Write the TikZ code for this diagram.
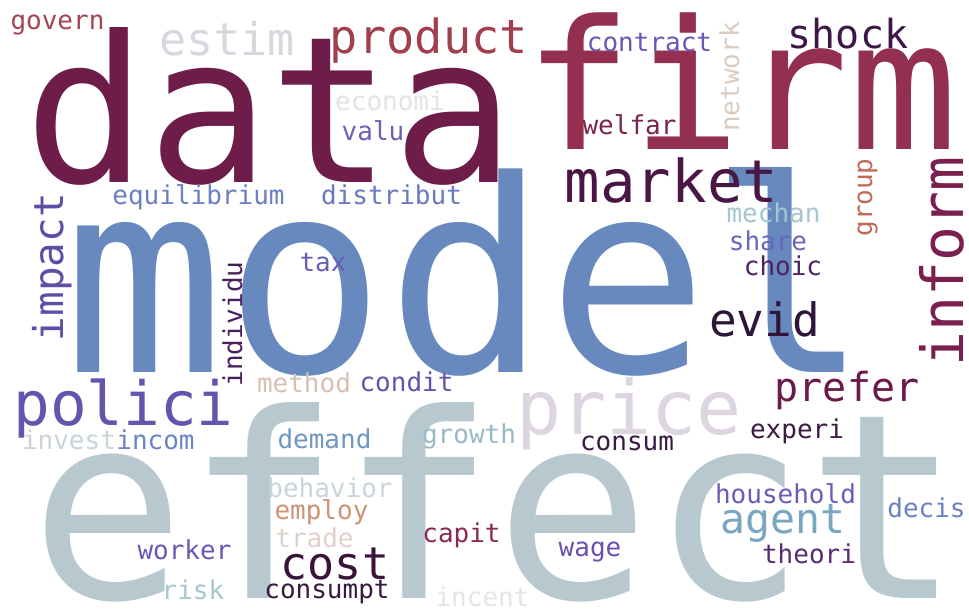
\documentclass[tikz,border=0pt]{standalone}
\usepackage{fontspec}
\newfontfamily\cloudfont{DejaVu Sans Mono}
\usepackage{tikz}

\tikzset{
  word/.style={inner sep=0pt, anchor=base, font=\cloudfont\fontsize{#1}{#1}\selectfont},
  upword/.style={word=#1, rotate=90}
}

\begin{document}
\begin{tikzpicture}[x=1pt,y=-1pt]
    \fill[white] (0,0) rectangle (969,612);
    \useasboundingbox (0,0) rectangle (969,612);
    % big words
    \node[word=204, text={rgb,255:red,110;green,29;blue,75}] (data) at (270,183) {data};
    \node[word=180, text={rgb,255:red,147;green,47;blue,79}] (firm) at (741,150) {firm};
    \node[word=268, text={rgb,255:red,103;green,137;blue,190}] (model) at (467,372) {model};
    \node[word=258, text={rgb,255:red,183;green,201;blue,207}] (effect) at (496,598) {effect};
    \node[word=75, text={rgb,255:red,221;green,214;blue,224}] (price) at (629,434) {price};
    \node[word=59, text={rgb,255:red,74;green,23;blue,69}] (market) at (671.5,203) {market};
    \node[upword=58, text={rgb,255:red,122;green,31;blue,79}] (inform) at (963,261.5) {inform};
    \node[word=61, text={rgb,255:red,100;green,84;blue,174}] (polici) at (123.5,425) {polici};
    \node[word=46, text={rgb,255:red,47;green,21;blue,57}] (evid) at (764.5,336) {evid};
    \node[word=45, text={rgb,255:red,59;green,18;blue,57}] (cost) at (335,579) {cost};
    \node[word=47, text={rgb,255:red,160;green,64;blue,79}] (product) at (429,54) {product};
    \node[word=45, text={rgb,255:red,218;green,214;blue,224}] (estim) at (227,56) {estim};
    \node[word=41.5, text={rgb,255:red,122;green,166;blue,194}] (agent) at (783,533) {agent};
    \node[word=40, text={rgb,255:red,107;green,26;blue,74}] (prefer) at (847,401) {prefer};
    \node[word=40, text={rgb,255:red,61;green,24;blue,70}] (shock) at (848,49) {shock};
    \node[upword=41, text={rgb,255:red,95;green,78;blue,168}] (impact) at (63,267) {impact};
    % small words
    \node[word=26, text={rgb,255:red,164;green,68;blue,82}] (govern) at (57.5,30) {govern};
    \node[word=26, text={rgb,255:red,230;green,224;blue,232}] (economi) at (390,111) {economi};
    \node[word=26, text={rgb,255:red,106;green,96;blue,180}] (valu) at (373,141) {valu};
    \node[word=26, text={rgb,255:red,106;green,128;blue,194}] (equilibrium) at (198.5,205) {equilibrium};
    \node[word=26, text={rgb,255:red,106;green,122;blue,192}] (distribut) at (391.5,205) {distribut};
    \node[word=26, text={rgb,255:red,106;green,88;blue,184}] (contract) at (649.5,52) {contract};
    \node[upword=26, text={rgb,255:red,220;green,203;blue,191}] (network) at (739,77) {network};
    \node[word=26, text={rgb,255:red,124;green,36;blue,80}] (welfar) at (629.5,135) {welfar};
    \node[word=26, text={rgb,255:red,166;green,198;blue,208}] (mechan) at (773.5,223) {mechan};
    \node[word=26, text={rgb,255:red,106;green,102;blue,186}] (share) at (768,251) {share};
    \node[word=26, text={rgb,255:red,76;green,34;blue,98}] (choic) at (783,276) {choic};
    \node[upword=26, text={rgb,255:red,194;green,106;blue,90}] (group) at (872,197.5) {group};
    \node[word=26, text={rgb,255:red,102;green,96;blue,180}] (tax) at (323,272) {tax};
    \node[upword=26, text={rgb,255:red,74;green,31;blue,94}] (individu) at (242,324) {individu};
    \node[word=26, text={rgb,255:red,216;green,192;blue,178}] (method) at (304,392) {method};
    \node[word=26, text={rgb,255:red,102;green,82;blue,172}] (condit) at (406.5,391) {condit};
    \node[word=26, text={rgb,255:red,200;green,212;blue,218}] (invest) at (69,449) {invest};
    \node[word=26, text={rgb,255:red,106;green,132;blue,196}] (incom) at (155.5,449) {incom};
    \node[word=26, text={rgb,255:red,111;green,152;blue,194}] (demand) at (324.5,448) {demand};
    \node[word=26, text={rgb,255:red,152;green,186;blue,200}] (growth) at (469,443) {growth};
    \node[word=26, text={rgb,255:red,58;green,26;blue,66}] (consum) at (627,450) {consum};
    \node[word=26, text={rgb,255:red,60;green,26;blue,68}] (experi) at (797,438) {experi};
    \node[word=26, text={rgb,255:red,200;green,214;blue,218}] (behavior) at (330,497) {behavior};
    \node[word=26, text={rgb,255:red,208;green,146;blue,116}] (employ) at (321.5,519) {employ};
    \node[word=26, text={rgb,255:red,224;green,210;blue,202}] (trade) at (314.5,547) {trade};
    \node[word=26, text={rgb,255:red,138;green,42;blue,82}] (capit) at (461.5,542) {capit};
    \node[word=26, text={rgb,255:red,106;green,88;blue,184}] (worker) at (184.5,559) {worker};
    \node[word=26, text={rgb,255:red,168;green,198;blue,208}] (risk) at (193,599) {risk};
    \node[word=26, text={rgb,255:red,58;green,26;blue,66}] (consumpt) at (327,598) {consumpt};
    \node[word=26, text={rgb,255:red,232;green,226;blue,234}] (incent) at (482.5,606) {incent};
    \node[word=26, text={rgb,255:red,106;green,92;blue,184}] (household) at (785.5,503) {household};
    \node[word=26, text={rgb,255:red,106;green,130;blue,194}] (decis) at (926.5,517) {decis};
    \node[word=26, text={rgb,255:red,106;green,80;blue,176}] (wage) at (590,556) {wage};
    \node[word=26, text={rgb,255:red,90;green,42;blue,114}] (theori) at (809,563) {theori};
\end{tikzpicture}
\end{document}
